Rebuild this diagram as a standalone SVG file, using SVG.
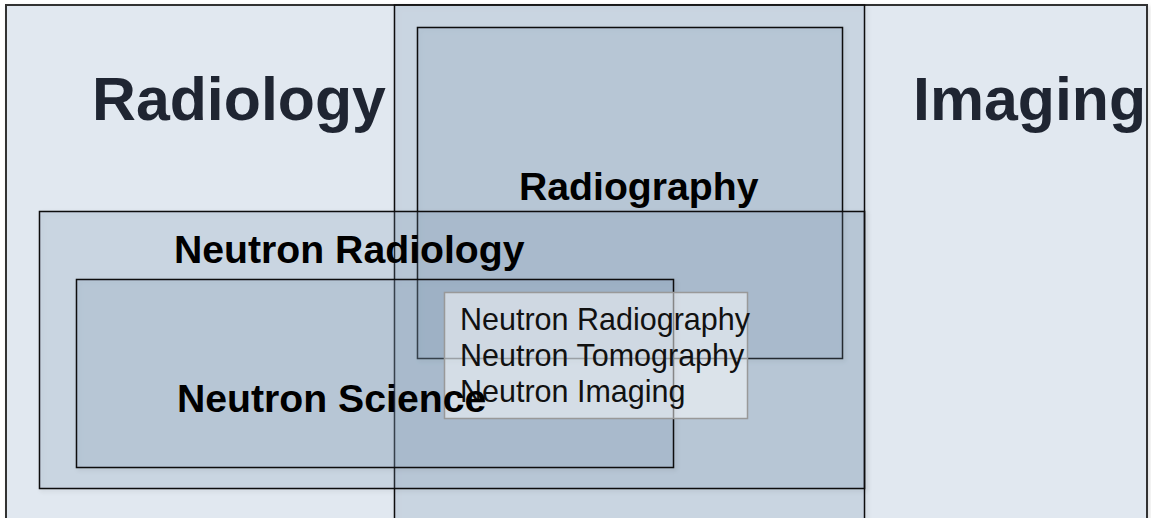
<svg xmlns="http://www.w3.org/2000/svg" width="1151" height="518" viewBox="0 0 1151 518">
  <defs>
    <filter id="sh" x="-5%" y="-5%" width="110%" height="110%">
      <feDropShadow dx="2" dy="2" stdDeviation="2" flood-color="#000" flood-opacity="0.12"/>
    </filter>
  </defs>
  <style>
    .box { fill: rgb(127,152,180); fill-opacity: 0.2; stroke: #111; stroke-width: 1.5; filter: url(#sh); }
    .big { font-family: "Liberation Sans", Arial, sans-serif; font-weight: bold; font-size: 60.8px; fill: #1f2532; }
    .mid { font-family: "Liberation Sans", Arial, sans-serif; font-weight: bold; font-size: 39.2px; fill: #000; }
    .sm { font-family: "Liberation Sans", Arial, sans-serif; font-size: 30.5px; fill: #111; }
  </style>
  <rect width="1151" height="518" fill="#ffffff"/>
  <g id="radiology-imaging">
    <rect x="6" y="5" width="1141" height="515" fill="#e1e8f0" stroke="#333" stroke-width="2" filter="url(#sh)"/>
    <text class="big" x="92" y="120">Radiology</text>
    <text class="big" x="913" y="120">Imaging</text>
  </g>
  <g id="column">
    <rect class="box" x="394.5" y="5" width="470" height="520"/>
  </g>
  <g id="radiography">
    <rect class="box" x="417.5" y="27.5" width="425" height="331"/>
    <text class="mid" x="519" y="200">Radiography</text>
  </g>
  <g id="neutron-radiology">
    <rect class="box" x="39.5" y="211.5" width="825" height="277"/>
    <text class="mid" x="174" y="263">Neutron Radiology</text>
  </g>
  <g id="neutron-science">
    <rect class="box" x="76.5" y="279.5" width="597" height="188"/>
  </g>
  <g id="neutron-imaging">
    <rect x="444.5" y="292.5" width="303" height="126" fill="#ffffff" fill-opacity="0.5" stroke="#999" stroke-width="1.5"/>
    <text class="sm" x="460" y="330">Neutron Radiography</text>
    <text class="sm" x="460" y="366">Neutron Tomography</text>
    <text class="sm" x="460" y="402">Neutron Imaging</text>
  </g>
  <g id="neutron-science-label">
    <text class="mid" x="177" y="412">Neutron Science</text>
  </g>
  <g id="connectors"/>
</svg>
